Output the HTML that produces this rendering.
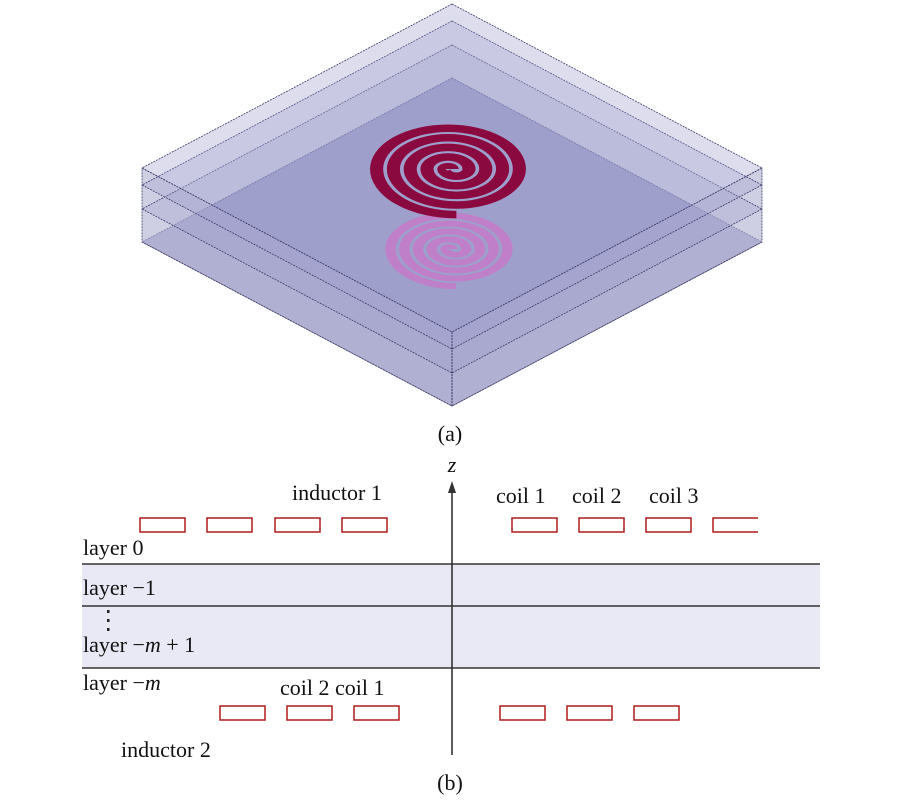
<!DOCTYPE html>
<html><head><meta charset="utf-8"><style>
body{margin:0;background:#fff}
svg{display:block}
text{font-family:"Liberation Serif",serif;font-size:22px;fill:#111}
</style></head><body>
<svg width="900" height="800" viewBox="0 0 900 800">
<g stroke="#3a3a66" stroke-width="0.8" stroke-dasharray="2,1">
<polygon points="452,78 762,242 452,406 142,242" fill="rgba(125,127,185,0.6)"/>
<polygon points="142,168 452,332 452,406 142,242" fill="rgba(175,175,210,0.6)"/>
<polygon points="762,168 452,332 452,406 762,242" fill="rgba(175,175,210,0.6)"/>
<polygon points="452,45 762,209 452,373 142,209" fill="rgba(150,150,200,0.28)"/>
<polygon points="452,21 762,185 452,349 142,185" fill="rgba(150,150,200,0.28)"/>
<polygon points="452,4 762,168 452,332 142,168" fill="rgba(150,150,200,0.32)"/>
<line x1="452" y1="332" x2="452" y2="406"/>
</g>
<g transform="translate(449,249) scale(0.86,0.49)" fill="none" stroke="#c47ac8" stroke-width="12" opacity="0.85">
<path d="M4,0 A4,4 0 0 0 -4,0 A12,12 0 0 0 20,0 A20,20 0 0 0 -20,0 A28,28 0 0 0 36,0 A36,36 0 0 0 -36,0 A44,44 0 0 0 52,0 A52,52 0 0 0 -52,0 A60,60 0 0 0 68,0 A68,68 0 0 0 -68,0 A76,76 0 0 0 8,76"/>
</g>
<g transform="translate(448,169) scale(1.05,0.6)" fill="none" stroke="#8a0a40" stroke-width="12.5">
<path d="M4,0 A4,4 0 0 0 -4,0 A12,12 0 0 0 20,0 A20,20 0 0 0 -20,0 A28,28 0 0 0 36,0 A36,36 0 0 0 -36,0 A44,44 0 0 0 52,0 A52,52 0 0 0 -52,0 A60,60 0 0 0 68,0 A68,68 0 0 0 -68,0 A76,76 0 0 0 8,76"/>
</g>
<text x="450" y="441" text-anchor="middle" font-size="24">(a)</text>
<rect x="82" y="564" width="738" height="104" fill="#e8e9f5"/>
<g stroke="#333" stroke-width="1.6">
<line x1="82" y1="564" x2="820" y2="564"/>
<line x1="82" y1="606" x2="820" y2="606"/>
<line x1="82" y1="668" x2="820" y2="668"/>
<line x1="452" y1="490" x2="452" y2="755"/>
</g>
<polygon points="452,481 448,493 456,493" fill="#333"/>
<text x="452" y="472" text-anchor="middle" font-style="italic" font-size="20">z</text>
<g fill="none" stroke="#b01c1c" stroke-width="1.5">
<rect x="140" y="518" width="45" height="14"/><rect x="207" y="518" width="45" height="14"/>
<rect x="275" y="518" width="45" height="14"/><rect x="342" y="518" width="45" height="14"/>
<rect x="512" y="518" width="45" height="14"/><rect x="579" y="518" width="45" height="14"/>
<rect x="646" y="518" width="45" height="14"/><path d="M758,518 H713 V532 H758"/>
<rect x="220" y="706" width="45" height="14"/><rect x="287" y="706" width="45" height="14"/>
<rect x="354" y="706" width="45" height="14"/>
<rect x="500" y="706" width="45" height="14"/><rect x="567" y="706" width="45" height="14"/>
<rect x="634" y="706" width="45" height="14"/>
</g>
<text x="292" y="500">inductor 1</text>
<text x="496" y="503">coil 1</text><text x="572" y="503">coil 2</text><text x="649" y="503">coil 3</text>
<text x="83" y="555">layer 0</text>
<text x="83" y="595">layer −1</text>
<g fill="#222"><rect x="107" y="610" width="2.5" height="3"/><rect x="107" y="619" width="2.5" height="3"/><rect x="107" y="628" width="2.5" height="3"/></g>
<text x="83" y="652">layer −<tspan font-style="italic">m</tspan> + 1</text>
<text x="83" y="690">layer −<tspan font-style="italic">m</tspan></text>
<text x="280" y="695">coil 2 coil 1</text>
<text x="121" y="757">inductor 2</text>
<text x="450" y="790" text-anchor="middle" font-size="24">(b)</text>
</svg>
</body></html>
